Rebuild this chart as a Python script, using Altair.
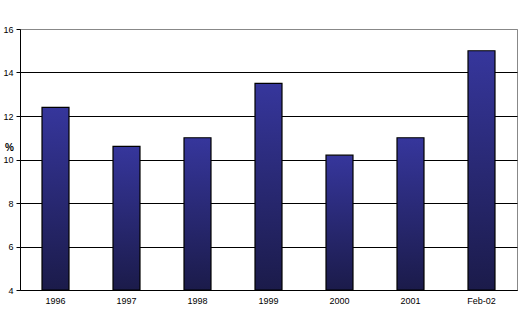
import altair as alt
import pandas as pd

categories = ["1996", "1997", "1998", "1999", "2000", "2001", "Feb-02"]
values = [12.4, 10.6, 11.0, 13.5, 10.2, 11.0, 15.0]
baseline = 4

df = pd.DataFrame({"period": categories, "value": values})

grad = alt.Gradient(
    gradient="linear",
    stops=[alt.GradientStop(color="#36369c", offset=0),
           alt.GradientStop(color="#1b1b4a", offset=1)],
    x1=0, x2=0, y1=0, y2=1,
)

chart = alt.Chart(df).mark_bar(
    fill=grad, stroke="black", strokeWidth=1.2
).encode(
    x=alt.X("period:N", sort=categories,
            scale=alt.Scale(paddingInner=0.62, paddingOuter=0.31),
            axis=alt.Axis(title=None, labelAngle=0, ticks=False,
                          domainColor="black", labelFontSize=9,
                          labelFont="Liberation Sans", labelColor="black",
                          labelPadding=6)),
    y=alt.Y("value:Q", scale=alt.Scale(domain=[4, 16], nice=False, zero=False),
            axis=alt.Axis(title="%", titleAngle=0, titleX=-11, titleY=123,
                          titleAlign="center", titleFontSize=10, titleFont="Liberation Sans",
                          titleColor="black", titleFontWeight="bold",
                          values=[4, 6, 8, 10, 12, 14, 16], tickSize=4,
                          tickColor="black", domainColor="black",
                          gridColor=alt.condition("datum.value == 16", alt.value("#888888"), alt.value("black")),
                          gridOpacity=1, gridWidth=1,
                          labelFontSize=9, labelFont="Liberation Sans",
                          labelColor="black", labelPadding=3)),
    y2=alt.datum(baseline),
).properties(
    width=497, height=261,
    autosize=alt.AutoSizeParams(type="none"),
    padding={"left": 20, "top": 29, "right": 8, "bottom": 35},
).configure_view(stroke="#888888", strokeWidth=1)

chart.save("out.html", embed_options={"renderer": "svg", "actions": False})
